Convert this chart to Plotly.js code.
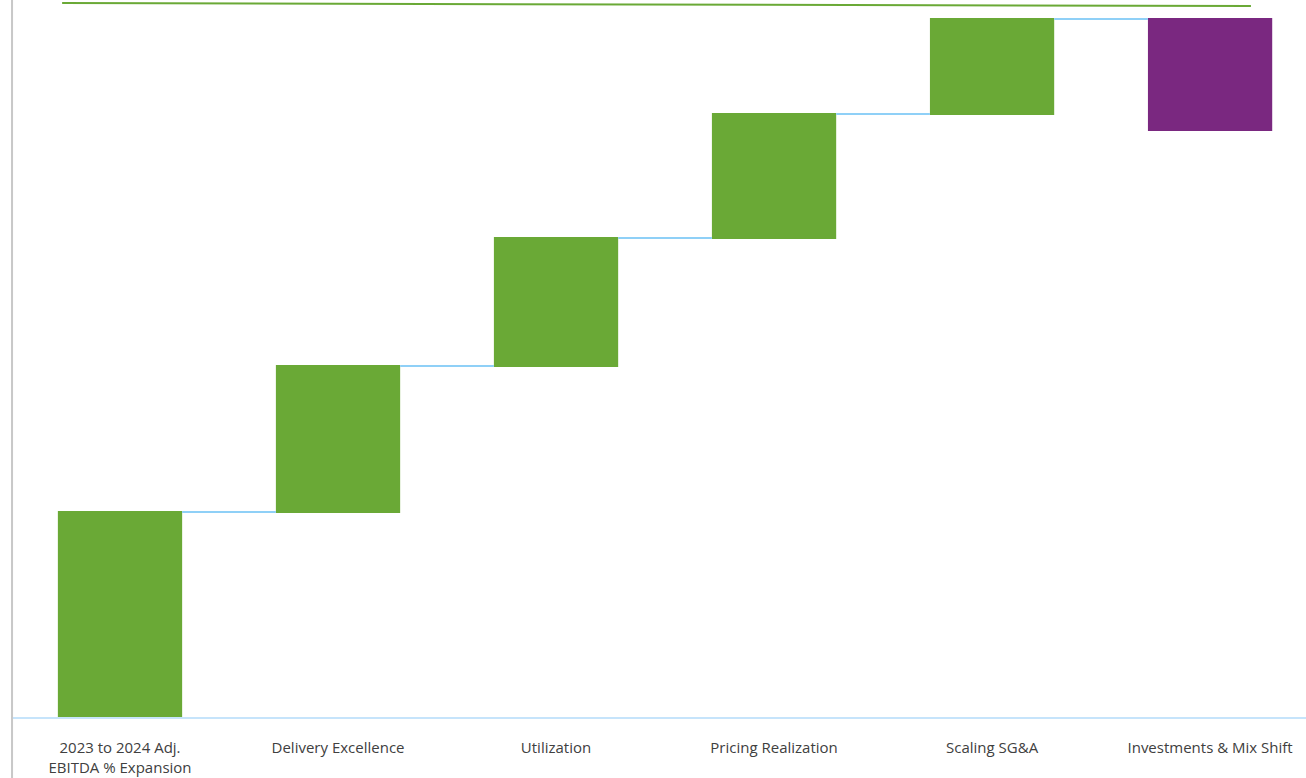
<!DOCTYPE html>
<html>
<head>
<meta charset="utf-8">
<script src="https://cdn.plot.ly/plotly-3.0.1.min.js"></script>
<style>html,body{margin:0;padding:0;background:#fff;overflow:hidden;}#chart{width:1306px;height:778px;}</style>
</head>
<body>
<div id="chart"></div>
<script>
const categories = ["2023 to 2024 Adj.<br>EBITDA % Expansion", "Delivery Excellence", "Utilization", "Pricing Realization", "Scaling SG&A", "Investments & Mix Shift"];
const measures = ["absolute", "relative", "relative", "relative", "relative", "relative"];
const values = [2.05, 1.46, 1.28, 1.24, 0.95, -1.11];

const green = "#6aa936";
const purple = "#7a2880";

const trace = {
  type: "waterfall",
  x: categories,
  y: values,
  measure: measures,
  width: 0.57,
  increasing: {marker: {color: green}},
  decreasing: {marker: {color: purple}},
  totals: {marker: {color: green}},
  connector: {mode: "between", line: {color: "#8fd0f7", width: 2}},
  hoverinfo: "none",
  textinfo: "none"
};

const layout = {
  width: 1306,
  height: 778,
  margin: {l: 11, r: 0, t: 0, b: 61},
  paper_bgcolor: "#ffffff",
  plot_bgcolor: "#ffffff",
  showlegend: false,
  font: {family: "Open Sans, sans-serif", size: 15, color: "#404040"},
  xaxis: {
    range: [-0.5, 5.44],
    showline: true,
    linecolor: "#c6e4fb",
    linewidth: 2,
    showgrid: false,
    zeroline: false,
    ticks: "",
    ticklabelstandoff: 16,
    tickfont: {size: 15, color: "#404040"}
  },
  yaxis: {
    range: [0, 7.17],
    showgrid: false,
    zeroline: false,
    showticklabels: false,
    showline: false,
    ticks: ""
  },
  shapes: [
    {type: "line", xref: "paper", yref: "paper", x0: 0.0008, x1: 0.0008, y0: -0.1, y1: 1.01,
     line: {color: "#c8c8c8", width: 2}},
    {type: "line", xref: "paper", yref: "paper", x0: 0.0395, x1: 0.9575, y0: 0.9958, y1: 0.9916,
     line: {color: green, width: 2}}
  ]
};

Plotly.newPlot("chart", [trace], layout, {displayModeBar: false, staticPlot: true});
</script>
</body>
</html>
